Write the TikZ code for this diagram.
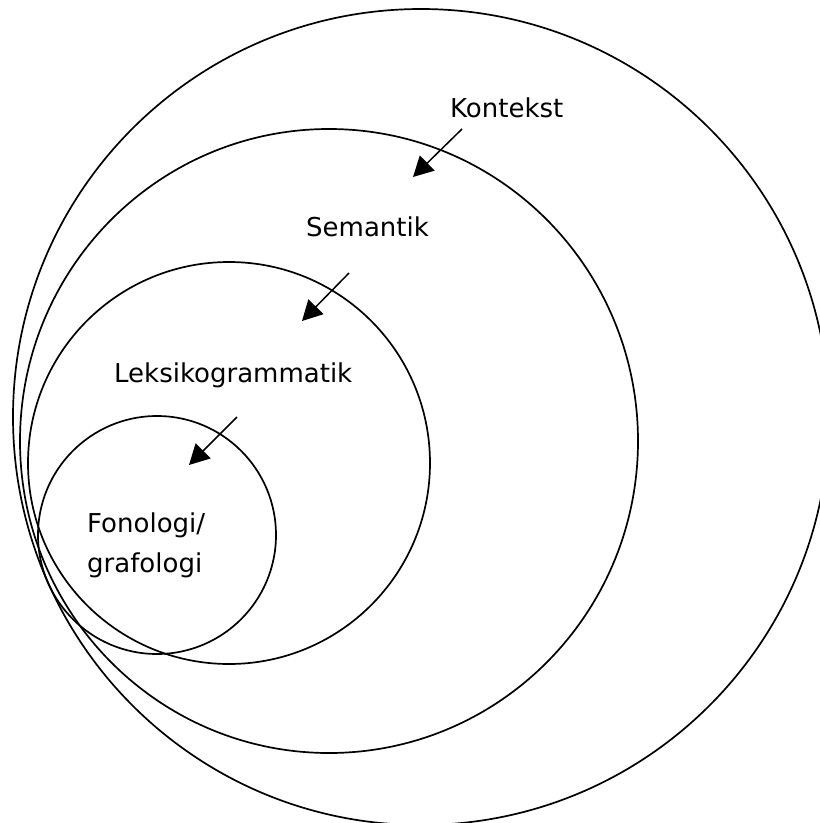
\documentclass[tikz,border=0pt]{standalone}
\usepackage{fontspec}
\setmainfont{DejaVu Sans}
\usetikzlibrary{arrows.meta}
\begin{document}
\begin{tikzpicture}[x=1pt,y=-1pt,
  ring/.style={draw=black,line width=1.7pt},
  label/.style={inner sep=0pt,anchor=base west,font=\fontsize{26}{40}\selectfont},
  pointer/.style={line width=1.5pt,-{Triangle[length=20pt,width=21pt]}}]
  \useasboundingbox (0,0) rectangle (820,823);
  \clip (0,0) rectangle (820,823);
  % nested strata
  \draw[ring] (421,417) circle[radius=408];
  \draw[ring] (329,441) ellipse[x radius=309,y radius=312];
  \draw[ring] (229,463) circle[radius=201];
  \draw[ring] (157,535) circle[radius=119];
  % labels
  \node[label] (kontekst) at (450,117) {Kontekst};
  \node[label] (semantik) at (306,236) {Semantik};
  \node[label] (leksiko) at (114,382) {Leksikogrammatik};
  \node[label] (fono) at (87,532) {Fonologi/};
  \node[label] (grafo) at (87,572) {grafologi};
  % arrows pointing inward
  \coordinate (k1) at (462,129); \coordinate (k2) at (413,177);
  \coordinate (s1) at (349,273); \coordinate (s2) at (302,321);
  \coordinate (l1) at (237,417); \coordinate (l2) at (189,465);
  \draw[pointer] (k1) -- (k2);
  \draw[pointer] (s1) -- (s2);
  \draw[pointer] (l1) -- (l2);
\end{tikzpicture}
\end{document}
